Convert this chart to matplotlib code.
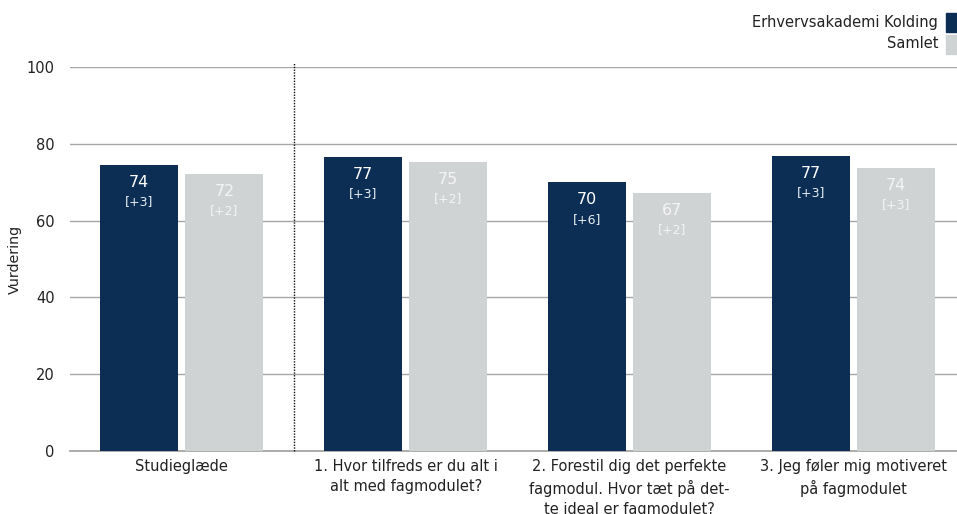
import matplotlib.pyplot as plt
import numpy as np

# data
categories = ["Studieglæde",
              "1. Hvor tilfreds er du alt i\nalt med fagmodulet?",
              "2. Forestil dig det perfekte\nfagmodul. Hvor tæt på det-\nte ideal er fagmodulet?",
              "3. Jeg føler mig motiveret\npå fagmodulet"]
kolding = [74.5, 76.6, 70.0, 76.8]
samlet = [72.1, 75.3, 67.2, 73.7]
kolding_lbl = ["74", "77", "70", "77"]
samlet_lbl = ["72", "75", "67", "74"]
kolding_diff = ["[+3]", "[+3]", "[+6]", "[+3]"]
samlet_diff = ["[+2]", "[+2]", "[+2]", "[+3]"]

navy = "#0c2e55"
grey = "#d0d3d3"

fig = plt.figure(figsize=(9.57, 5.14), dpi=100)
# axes runs a bit past the right edge, like the original
ax = fig.add_axes([70/957, (514-451)/514, 895/957, 384/514])

x = np.arange(len(categories))
w = 0.349
off = 0.19
b1 = ax.bar(x - off, kolding, w, color=navy, zorder=3)
b2 = ax.bar(x + off, samlet, w, color=grey, zorder=3)

# labels inside bars
for i in range(len(x)):
    ax.text(x[i] - off, kolding[i] - 4.5, kolding_lbl[i], ha="center", va="center",
            color="white", fontsize=11.5, zorder=4)
    ax.text(x[i] - off, kolding[i] - 9.6, kolding_diff[i], ha="center", va="center",
            color="#e8ecf0", fontsize=9, zorder=4)
    ax.text(x[i] + off, samlet[i] - 4.5, samlet_lbl[i], ha="center", va="center",
            color="#f4f4f4", fontsize=11.5, zorder=4)
    ax.text(x[i] + off, samlet[i] - 9.6, samlet_diff[i], ha="center", va="center",
            color="#f4f4f4", fontsize=9, zorder=4)

ax.set_xlim(-0.5, 3.5)
ax.set_ylim(0, 100)
ax.set_yticks([0, 20, 40, 60, 80, 100])
ax.yaxis.grid(True, color="#a6a6a6", linewidth=1.0, zorder=0)
ax.set_axisbelow(True)
for s in ax.spines.values():
    s.set_visible(False)
ax.axhline(0, color="#a6a6a6", linewidth=1.3, zorder=2, clip_on=False)

# dotted separator after the first group
ax.plot([0.5, 0.5], [0, 101], color="#111111", linestyle=(0, (1, 1)),
        linewidth=1.0, clip_on=False, zorder=2)

ax.set_xticks(x)
ax.set_xticklabels(categories, fontsize=10.5, color="#222222", linespacing=1.42)
ax.tick_params(axis="x", length=0, pad=6)
ax.tick_params(axis="y", length=0, pad=11, labelsize=10.5, labelcolor="#222222")
fig.text(15/957, 1 - 259/514, "Vurdering", rotation=90, ha="center", va="center",
         fontsize=10.3, color="#222222")

# legend, top right
fig.text(938/957, 1 - 22/514, "Erhvervsakademi Kolding", ha="right", va="center",
         fontsize=10.5, color="#222222")
fig.text(938/957, 1 - 44/514, "Samlet", ha="right", va="center",
         fontsize=10.5, color="#222222")
fig.patches.append(plt.Rectangle((946/957, 1 - 32/514), 12/957, 19/514,
                                 transform=fig.transFigure, color=navy))
fig.patches.append(plt.Rectangle((946/957, 1 - 54/514), 12/957, 19/514,
                                 transform=fig.transFigure, color=grey))

fig.savefig("out.png", dpi=100)
